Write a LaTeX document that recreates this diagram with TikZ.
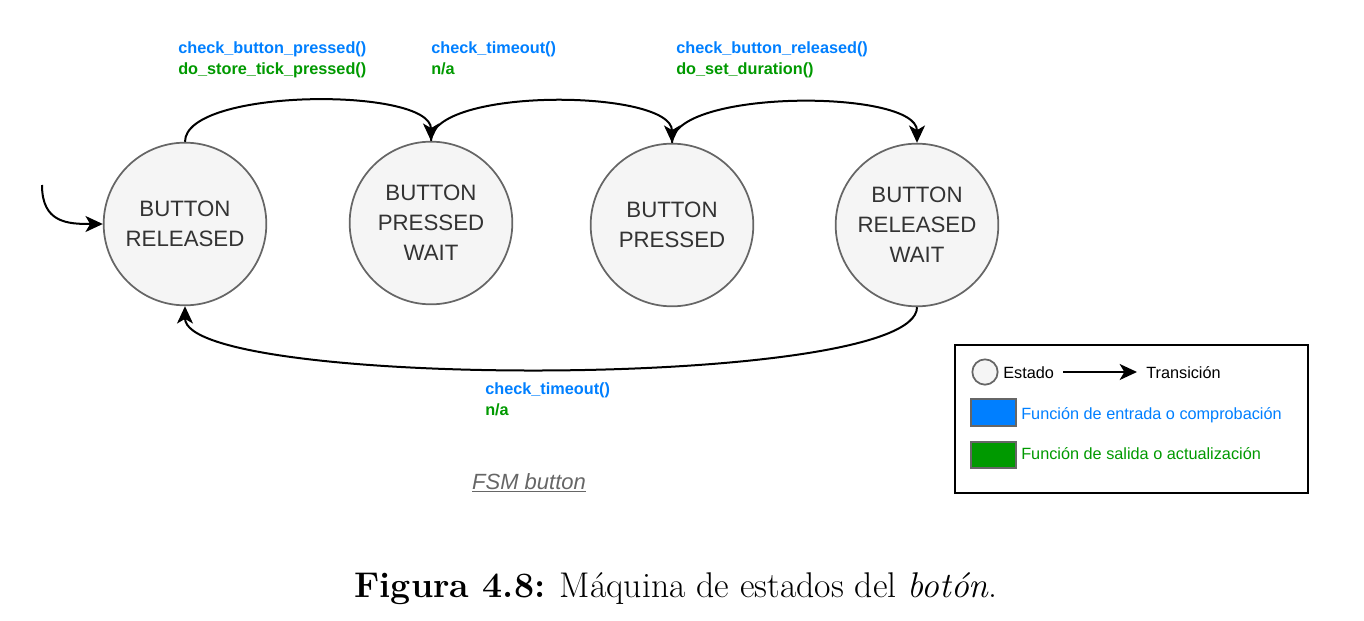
\documentclass[tikz,border=0pt]{standalone}
\usepackage{fontspec}
\usepackage{tikz}
\usetikzlibrary{arrows.meta}
\newfontfamily\drawfont{Liberation Sans}
\definecolor{fnblue}{HTML}{007FFF}
\definecolor{fngreen}{HTML}{009900}
\definecolor{stategray}{HTML}{666666}
\definecolor{statefill}{HTML}{F5F5F5}
\definecolor{statetext}{HTML}{333333}

\tikzset{
  state/.style={circle, draw=stategray, fill=statefill, line width=1.3pt, minimum size=122pt, inner sep=0pt, align=center, text=statetext, font=\drawfont\fontsize{16.7}{22.5}\selectfont},
  trans/.style={line width=1.5pt, -{Stealth[length=13pt,width=12pt,inset=3.5pt]}},
  fnlabel/.style={anchor=base west, inner sep=0pt, font=\drawfont\bfseries\fontsize{12.2}{15}\selectfont},
  legtext/.style={anchor=base west, inner sep=0pt, font=\drawfont\fontsize{12.2}{14}\selectfont},
  legbox/.style={draw=stategray, line width=1.3pt, minimum width=33.75pt, minimum height=20pt, inner sep=0pt},
}

\begin{document}
\begin{tikzpicture}[x=0.75pt,y=-0.75pt]
  \useasboundingbox (0,0) rectangle (1364,621);

  % estados
  \node[state] (released) at (185,224) {BUTTON\\RELEASED};
  \node[state] (pwait) at (431,223) {BUTTON\\PRESSED\\WAIT};
  \node[state] (pressed) at (672,225) {BUTTON\\PRESSED};
  \node[state] (rwait) at (917,225) {BUTTON\\RELEASED\\WAIT};

  % transiciones
  \coordinate (start) at (42,185);
  \draw[trans] (start) .. controls +(0,38) and +(-35,0) .. (released.west);
  \draw[trans] (released.north) .. controls +(0,-54) and +(0,-54) .. (pwait.north);
  \draw[trans] (pwait.north) .. controls +(0,-54) and +(0,-54) .. (pressed.north);
  \draw[trans] (pressed.north) .. controls +(0,-54) and +(0,-54) .. (rwait.north);
  \draw[trans] (rwait.south) .. controls +(0,83) and +(0,83) .. (released.south);

  % funciones
  \node[fnlabel, text=fnblue] (in1) at (178,53) {check\_button\_pressed()};
  \node[fnlabel, text=fngreen] (out1) at (178,74) {do\_store\_tick\_pressed()};
  \node[fnlabel, text=fnblue] (in2) at (431,53) {check\_timeout()};
  \node[fnlabel, text=fngreen] (out2) at (431,74) {n/a};
  \node[fnlabel, text=fnblue] (in3) at (676,53) {check\_button\_released()};
  \node[fnlabel, text=fngreen] (out3) at (676,74) {do\_set\_duration()};
  \node[fnlabel, text=fnblue] (in4) at (485,394) {check\_timeout()};
  \node[fnlabel, text=fngreen] (out4) at (485,415) {n/a};

  \node[anchor=base, inner sep=0pt, text=stategray, font=\drawfont\itshape\fontsize{16.5}{20}\selectfont] (fsm) at (529,489) {\underline{FSM button}};

  % leyenda
  \draw[line width=1.5pt] (955,345) rectangle (1308,493);
  \node[circle, draw=stategray, fill=statefill, line width=1.3pt, minimum size=19pt, inner sep=0pt] (legstate) at (985,372) {};
  \node[legtext] (legstatetxt) at (1003,378) {Estado};
  \coordinate (legA) at (1063,372);
  \coordinate (legB) at (1137,372);
  \draw[trans] (legA) -- (legB);
  \node[legtext] (legtranstxt) at (1146,378) {Transición};
  \node[legbox, fill=fnblue] (legin) at (993.5,412.5) {};
  \node[legtext, text=fnblue] (legintxt) at (1021,419) {Función de entrada o comprobación};
  \node[legbox, fill=fngreen] (legout) at (993.5,455) {};
  \node[legtext, text=fngreen] (legouttxt) at (1021,459) {Función de salida o actualización};

  % pie
  \node[anchor=base, inner sep=0pt, font=\fontsize{26.8}{32}\selectfont] (caption) at (676,597) {\textbf{Figura 4.8:} Máquina de estados del \textit{botón}.};
\end{tikzpicture}
\end{document}
